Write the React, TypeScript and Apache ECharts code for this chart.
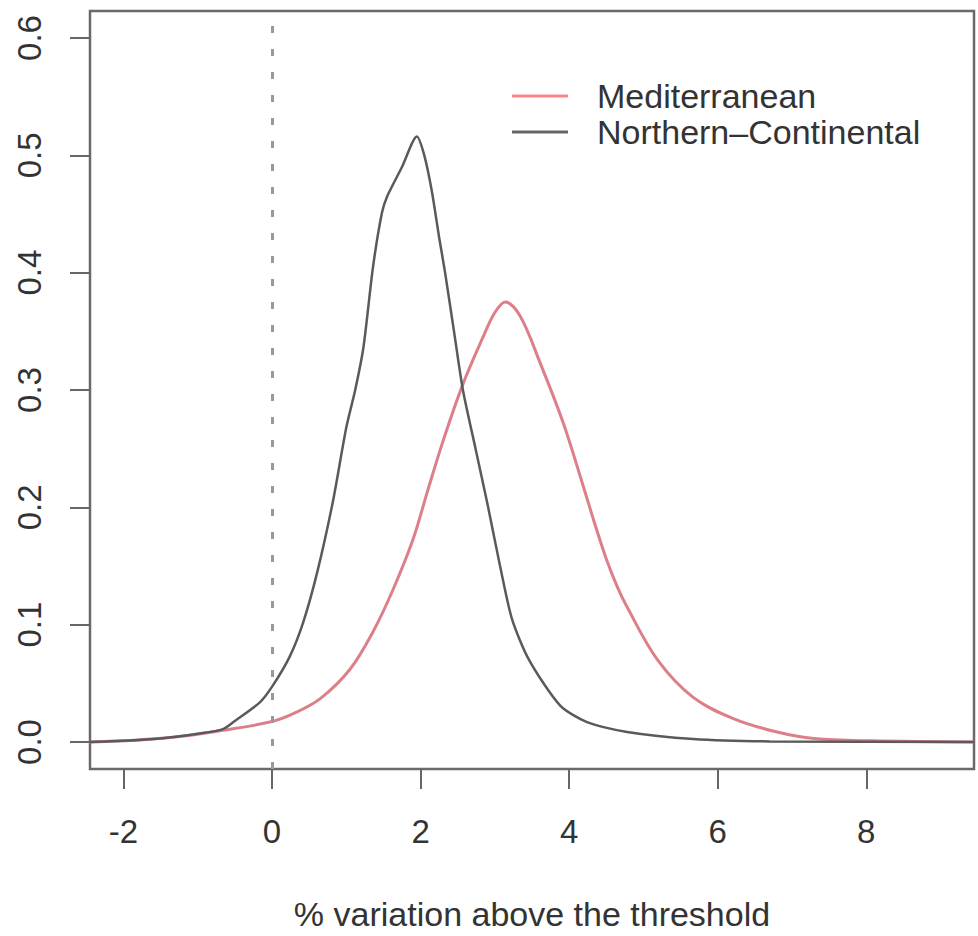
import React, { useEffect, useRef } from "react";
import * as echarts from "echarts";

const seriesNames = ["Mediterranean", "Northern\u2013Continental"];

const medX = [-2.45, -2.0, -1.33, -0.66, -0.03, 0.28, 0.65, 1.05, 1.36, 1.63, 1.9, 2.09, 2.3, 2.57, 2.84, 3.0, 3.14, 3.34, 3.61, 3.92, 4.19, 4.35, 4.5, 4.65, 4.78, 5.19, 5.67, 6.21, 6.8, 7.3, 8.07, 9.45];
const medY = [0.0, 0.001, 0.004, 0.01, 0.017, 0.024, 0.037, 0.062, 0.094, 0.13, 0.173, 0.213, 0.256, 0.305, 0.345, 0.366, 0.375, 0.363, 0.323, 0.272, 0.218, 0.185, 0.156, 0.132, 0.115, 0.07, 0.038, 0.02, 0.0085, 0.003, 0.001, 0.0];

const ncX = [-2.45, -2.0, -1.5, -1.0, -0.66, -0.5, -0.16, 0.01, 0.24, 0.42, 0.61, 0.82, 1.0, 1.12, 1.23, 1.36, 1.48, 1.55, 1.75, 1.95, 2.05, 2.15, 2.25, 2.33, 2.45, 2.57, 2.74, 2.91, 3.07, 3.23, 3.46, 3.88, 4.24, 4.78, 5.67, 6.7, 9.45];
const ncY = [0.0, 0.001, 0.003, 0.007, 0.011, 0.018, 0.034, 0.048, 0.073, 0.102, 0.145, 0.205, 0.268, 0.3, 0.336, 0.405, 0.451, 0.465, 0.49, 0.516, 0.5, 0.47, 0.43, 0.4, 0.35, 0.3, 0.25, 0.2, 0.15, 0.105, 0.07, 0.031, 0.017, 0.0085, 0.0025, 0.0005, 0.0];

const xTicks = [-2, 0, 2, 4, 6, 8];
const yTicks = [0, 0.1, 0.2, 0.3, 0.4, 0.5, 0.6];
const thresholdX = 0;
const xTitle = "% variation above the threshold";

const FONT = "'Liberation Sans', Arial, Helvetica, sans-serif";

export default function App() {
  const ref = useRef<HTMLDivElement>(null);
  useEffect(() => {
    if (!ref.current) return;
    const chart = echarts.init(ref.current, null, { renderer: "svg" });
    const medData = medX.map((x, i) => [x, medY[i]]);
    const ncData = ncX.map((x, i) => [x, ncY[i]]);
    chart.setOption({
      animation: false,
      backgroundColor: "#ffffff",
      grid: {
        left: 90,
        top: 11,
        right: 4,
        bottom: 166,
        show: true,
        borderColor: "#6a6a6a",
        borderWidth: 2.5,
        backgroundColor: "transparent",
      },
      legend: {
        orient: "vertical",
        left: 512,
        top: 79,
        padding: 0,
        icon: "rect",
        itemWidth: 56,
        itemHeight: 3,
        itemGap: 2,
        textStyle: {
          fontSize: 34,
          fontFamily: FONT,
          color: "#333",
          lineHeight: 34,
          padding: [0, 0, 0, 24],
        },
        data: [
          { name: seriesNames[0], itemStyle: { color: "#ff8585" } },
          { name: seriesNames[1], itemStyle: { color: "#666666" } },
        ],
      },
      xAxis: {
        type: "value",
        min: -2.45,
        max: 9.45,
        axisLine: { show: false, onZero: false },
        splitLine: { show: false },
        axisTick: {
          show: true,
          inside: false,
          customValues: xTicks,
          length: 20,
          lineStyle: { color: "#666", width: 2 },
        },
        axisLabel: {
          customValues: xTicks,
          margin: 46,
          fontSize: 33,
          fontFamily: FONT,
          color: "#333",
        },
        name: xTitle,
        nameLocation: "middle",
        nameGap: 128,
        nameTextStyle: { fontSize: 34, fontFamily: FONT, color: "#333" },
      },
      yAxis: {
        type: "value",
        min: -0.023,
        max: 0.623,
        axisLine: { show: false, onZero: false },
        splitLine: { show: false },
        axisTick: {
          show: true,
          inside: false,
          customValues: yTicks,
          length: 20,
          lineStyle: { color: "#666", width: 2 },
        },
        axisLabel: {
          customValues: yTicks,
          rotate: 90,
          margin: 44,
          fontSize: 33,
          fontFamily: FONT,
          color: "#333",
          formatter: (v: number) => v.toFixed(1),
        },
      },
      series: [
        {
          name: seriesNames[0],
          type: "line",
          data: medData,
          showSymbol: false,
          smooth: 0.35,
          lineStyle: { color: "#dd7f89", width: 3 },
          itemStyle: { color: "#ff8585" },
          z: 3,
        },
        {
          name: seriesNames[1],
          type: "line",
          data: ncData,
          showSymbol: false,
          smooth: 0.25,
          lineStyle: { color: "#5a5a5a", width: 2.5 },
          itemStyle: { color: "#666666" },
          z: 4,
          markLine: {
            silent: true,
            symbol: ["none", "none"],
            label: { show: false },
            lineStyle: { color: "#999", width: 3, type: [7, 16] },
            data: [{ xAxis: thresholdX }],
          },
        },
      ],
    });
    return () => chart.dispose();
  }, []);
  return (
    <div
      ref={ref}
      style={{ position: "fixed", left: 0, top: 0, width: 978, height: 936, background: "#fff" }}
    />
  );
}
